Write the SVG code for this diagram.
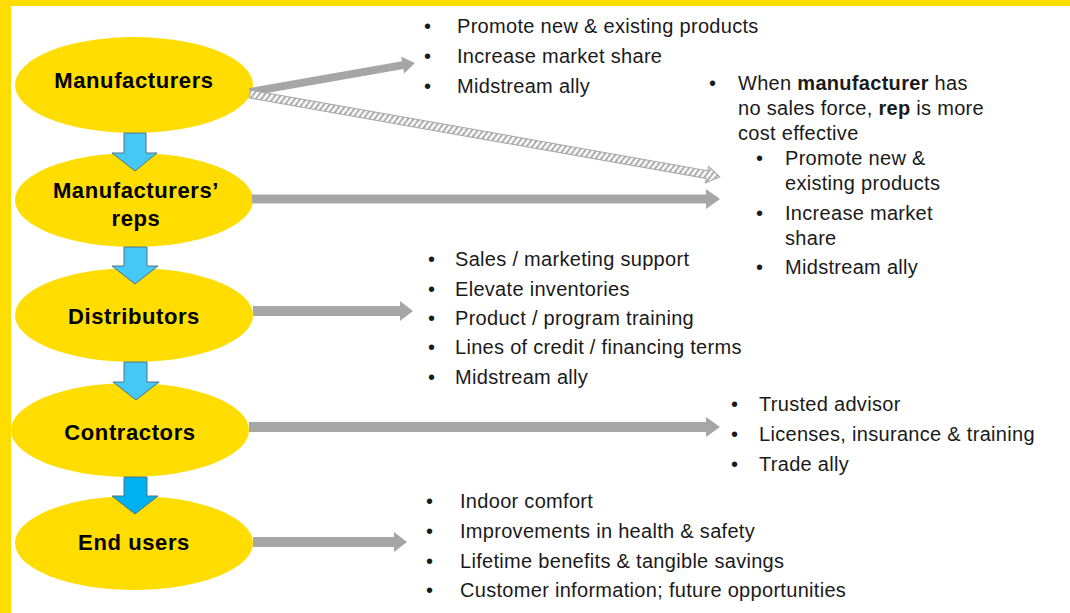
<svg xmlns="http://www.w3.org/2000/svg" width="1070" height="613" viewBox="0 0 1070 613">
<defs>
<style>
.node{fill:#FFDD00;}
.lbl{font-family:"Liberation Sans",Arial,sans-serif;font-weight:bold;font-size:22px;fill:#000;text-anchor:middle;letter-spacing:0.6px;}
.t{font-family:"Liberation Sans",Arial,sans-serif;font-size:20px;fill:#1a1a1a;letter-spacing:0.3px;}
.b{font-weight:bold;}
.gray{fill:#A6A6A6;}
.blue{fill:#45C8F5;stroke:#4E7486;stroke-width:1;}
.blue2{fill:#00B0F0;stroke:#4E7486;stroke-width:1;}
</style>
<pattern id="hatch" patternUnits="userSpaceOnUse" width="5" height="10">
<rect width="5" height="10" fill="#fff"/>
<path d="M-1.5,10 L3.5,0 M3.5,10 L8.5,0" stroke="#A6A6A6" stroke-width="2"/>
</pattern>
</defs>
<rect width="1070" height="613" fill="#fff"/>
<rect x="0" y="0" width="1070" height="6" fill="#FFDD00"/>
<rect x="0" y="0" width="11" height="613" fill="#FFDD00"/>

<g id="manufacturers"><ellipse class="node" cx="134" cy="85" rx="119" ry="48"/><text class="lbl" x="134" y="88">Manufacturers</text></g>
<g id="reps"><ellipse class="node" cx="134" cy="200" rx="119" ry="47"/><text class="lbl" x="136" y="198">Manufacturers’</text><text class="lbl" x="136" y="226">reps</text></g>
<g id="distributors"><ellipse class="node" cx="134" cy="315" rx="119" ry="47"/><text class="lbl" x="134" y="324">Distributors</text></g>
<g id="contractors"><ellipse class="node" cx="130" cy="430" rx="119" ry="47"/><text class="lbl" x="130" y="440">Contractors</text></g>
<g id="endusers"><ellipse class="node" cx="134" cy="543" rx="119" ry="47"/><text class="lbl" x="134" y="550">End users</text></g>

<g id="connectors">
<path class="blue" d="M124,133 H146 V153 H157 L135,171 L112,153 H124 Z"/>
<path class="blue" d="M124,247 H147 V266 H158 L135,284 L112,266 H124 Z"/>
<path class="blue" d="M124,362 H147 V382 H159 L136,400 L113,382 H124 Z"/>
<path class="blue2" d="M124,477 H147 V496 H158 L135,514 L112,496 H124 Z"/>
<g transform="translate(250,92) rotate(-9.97)"><path class="gray" d="M0,-4 H155 V-8.5 L167.5,0 L155,8.5 V4 H0 Z"/></g>
<g transform="translate(250,94) rotate(10.0)"><path d="M0,-4 H464 V-8.5 L477,0 L464,8.5 V4 H0 Z" fill="url(#hatch)" stroke="#A6A6A6" stroke-width="1"/></g>
<path class="gray" d="M252,194.5 H706 V189 L720,199 L706,209 V203.5 H252 Z"/>
<path class="gray" d="M253,306 H400 V301 L413,311 L400,321 V316 H253 Z"/>
<path class="gray" d="M249,422 H706 V417 L720,427 L706,437 V432 H249 Z"/>
<path class="gray" d="M253,537 H394 V532 L407,542 L394,552 V547 H253 Z"/>
</g>

<g id="text-manufacturers">
<text class="t" x="424" y="33">•</text><text class="t" x="457" y="33">Promote new &amp; existing products</text>
<text class="t" x="424" y="63">•</text><text class="t" x="457" y="63">Increase market share</text>
<text class="t" x="424" y="93">•</text><text class="t" x="457" y="93">Midstream ally</text>
</g>
<g id="text-reps">
<text class="t" x="709" y="90">•</text><text class="t" x="738" y="90">When <tspan class="b">manufacturer</tspan> has</text>
<text class="t" x="738" y="115">no sales force, <tspan class="b">rep</tspan> is more</text>
<text class="t" x="738" y="140">cost effective</text>
<text class="t" x="756" y="165">•</text><text class="t" x="785" y="165">Promote new &amp;</text>
<text class="t" x="785" y="190">existing products</text>
<text class="t" x="756" y="220">•</text><text class="t" x="785" y="220">Increase market</text>
<text class="t" x="785" y="245">share</text>
<text class="t" x="756" y="274">•</text><text class="t" x="785" y="274">Midstream ally</text>
</g>
<g id="text-distributors">
<text class="t" x="428" y="266">•</text><text class="t" x="455" y="266">Sales / marketing support</text>
<text class="t" x="428" y="296">•</text><text class="t" x="455" y="296">Elevate inventories</text>
<text class="t" x="428" y="325">•</text><text class="t" x="455" y="325">Product / program training</text>
<text class="t" x="428" y="354">•</text><text class="t" x="455" y="354">Lines of credit / financing terms</text>
<text class="t" x="428" y="384">•</text><text class="t" x="455" y="384">Midstream ally</text>
</g>
<g id="text-contractors">
<text class="t" x="731" y="411">•</text><text class="t" x="759" y="411">Trusted advisor</text>
<text class="t" x="731" y="441">•</text><text class="t" x="759" y="441">Licenses, insurance &amp; training</text>
<text class="t" x="731" y="471">•</text><text class="t" x="759" y="471">Trade ally</text>
</g>
<g id="text-endusers">
<text class="t" x="426" y="508">•</text><text class="t" x="460" y="508">Indoor comfort</text>
<text class="t" x="426" y="538">•</text><text class="t" x="460" y="538">Improvements in health &amp; safety</text>
<text class="t" x="426" y="568">•</text><text class="t" x="460" y="568">Lifetime benefits &amp; tangible savings</text>
<text class="t" x="426" y="597">•</text><text class="t" x="460" y="597">Customer information; future opportunities</text>
</g>
</svg>
